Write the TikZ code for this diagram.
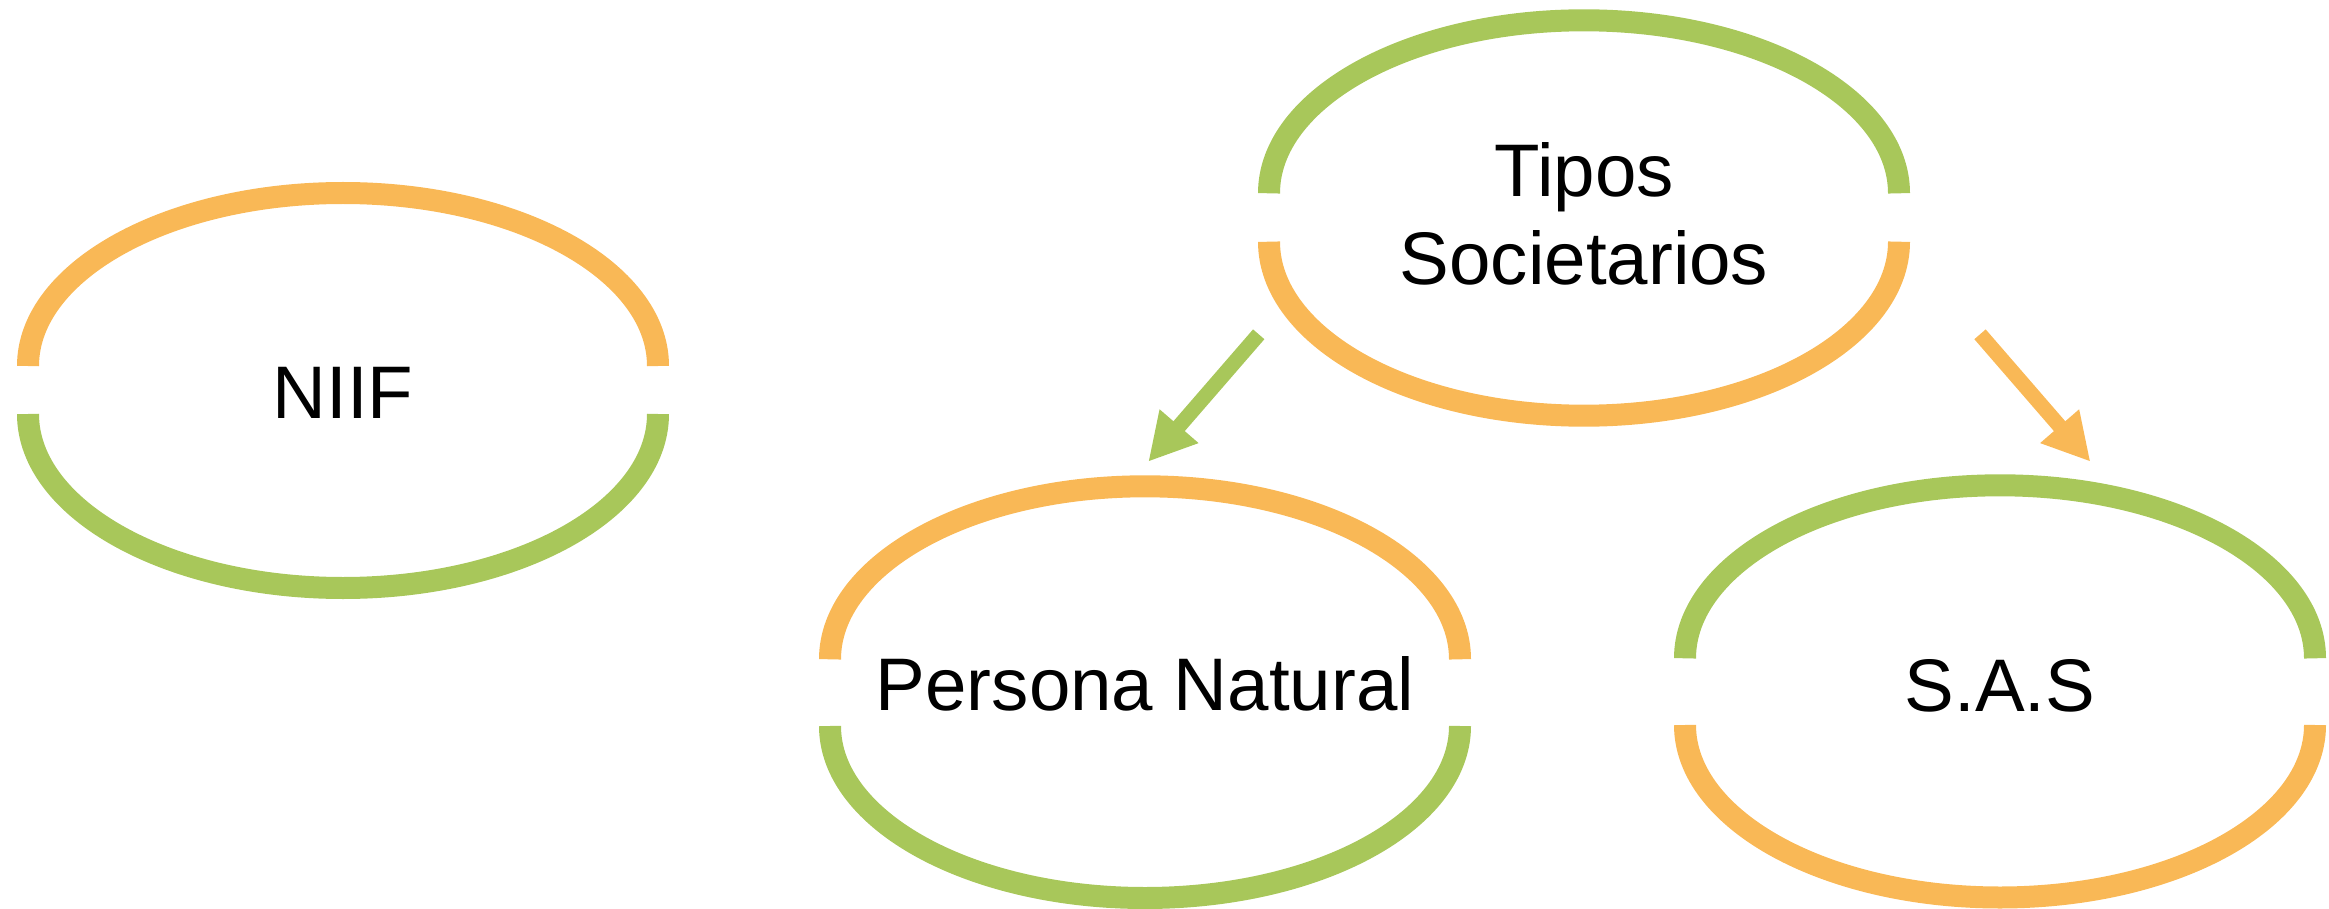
\documentclass[tikz,border=0pt]{standalone}
\usepackage{fontspec}
\setmainfont{Liberation Sans}
\usetikzlibrary{arrows.meta}
\definecolor{ora}{HTML}{F9B856}
\definecolor{gre}{HTML}{A8C75A}
\tikzset{
  ring/.style={line width=22pt, line cap=butt},
  lbl/.style={inner sep=0pt, font=\fontsize{74.5}{88}\selectfont, text=black},
  arr/.style={line width=15pt, line cap=butt, -{Triangle[length=47pt,width=48pt]}}
}
\begin{document}
\begin{tikzpicture}[x=1pt,y=-1pt]
\useasboundingbox (0,0) rectangle (2329,909);
% NIIF
\draw[ring, ora] (28,366) arc[start angle=180,end angle=0,x radius=315pt,y radius=173pt];
\draw[ring, gre] (28,414) arc[start angle=180,end angle=360,x radius=315pt,y radius=174pt];
\node[lbl, anchor=base] (niif) at (343,418.3) {NIIF};
% Tipos Societarios
\draw[ring, gre] (1269,193.3) arc[start angle=180,end angle=0,x radius=315pt,y radius=173pt];
\draw[ring, ora] (1269,241.7) arc[start angle=180,end angle=360,x radius=315pt,y radius=174pt];
\node[lbl, anchor=base, align=center] (tipos) at (1584,285) {Tipos\\Societarios};
% Persona Natural
\draw[ring, ora] (830,659.3) arc[start angle=180,end angle=0,x radius=315pt,y radius=173pt];
\draw[ring, gre] (830,726) arc[start angle=180,end angle=360,x radius=315pt,y radius=172pt];
\node[lbl, anchor=base] (persona) at (1145,710.7) {Persona Natural};
% S.A.S
\draw[ring, gre] (1685,658.3) arc[start angle=180,end angle=0,x radius=315pt,y radius=173pt];
\draw[ring, ora] (1685,725) arc[start angle=180,end angle=360,x radius=315pt,y radius=172.5pt];
\node[lbl, anchor=base] (sas) at (2000,711) {S.A.S};
% arrows
\coordinate (a1s) at (1258.7,334.3);
\coordinate (a1e) at (1148.3,461.7);
\coordinate (a2s) at (1980,334.3);
\coordinate (a2e) at (2090.4,461.7);
\draw[arr, gre] (a1s) -- (a1e);
\draw[arr, ora] (a2s) -- (a2e);
\end{tikzpicture}
\end{document}
